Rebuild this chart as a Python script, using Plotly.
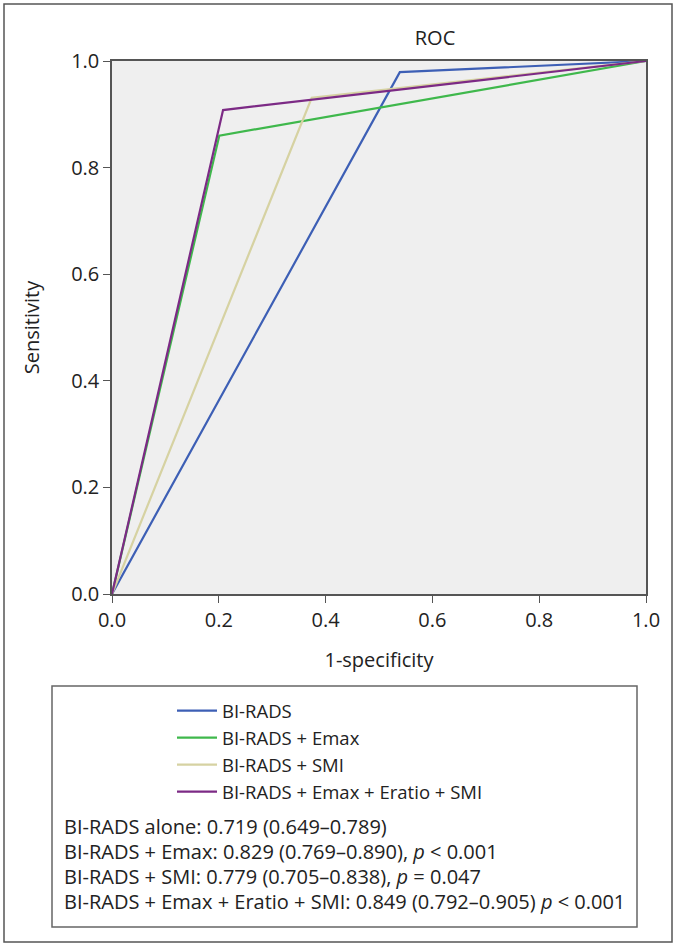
import plotly.graph_objects as go

# ---- data ----
series_names = ["BI-RADS", "BI-RADS + Emax", "BI-RADS + SMI", "BI-RADS + Emax + Eratio + SMI"]
fpr_birads = [0.0, 0.539, 1.0]
tpr_birads = [0.0, 0.979, 1.0]
fpr_emax = [0.0, 0.201, 1.0]
tpr_emax = [0.0, 0.860, 1.0]
fpr_smi = [0.0, 0.374, 1.0]
tpr_smi = [0.0, 0.931, 1.0]
fpr_all = [0.0, 0.208, 1.0]
tpr_all = [0.0, 0.908, 1.0]
colors = ["#3d5fb5", "#3fb84c", "#d6d2a2", "#7c2a85"]
tick_vals = [0.0, 0.2, 0.4, 0.6, 0.8, 1.0]
tick_text = ["0.0", "0.2", "0.4", "0.6", "0.8", "1.0"]
stats_lines = [
    "BI-RADS alone: 0.719 (0.649–0.789)",
    "BI-RADS + Emax: 0.829 (0.769–0.890), <i>p</i> &lt; 0.001",
    "BI-RADS + SMI: 0.779 (0.705–0.838), <i>p</i> = 0.047",
    "BI-RADS + Emax + Eratio + SMI: 0.849 (0.792–0.905) <i>p</i> &lt; 0.001",
]

W, H = 677, 947
L, R, T, B = 112, 646, 61, 594  # plot area in px
pw, ph = R - L, B - T

def px(x):
    return (x - L) / pw

def py(y):
    return (B - y) / ph

FONT = "Open Sans"
TXT = "#222222"
FS = 20

fig = go.Figure()
xs = [fpr_birads, fpr_emax, fpr_smi, fpr_all]
ys = [tpr_birads, tpr_emax, tpr_smi, tpr_all]
for name, x, y, c in zip(series_names, xs, ys, colors):
    fig.add_trace(go.Scatter(x=x, y=y, mode="lines", name=name,
                             line=dict(color=c, width=2.2)))

axis_common = dict(range=[0, 1], tickvals=tick_vals, ticktext=tick_text,
                   showgrid=False, zeroline=False, showline=True, linecolor="#555555",
                   linewidth=1.5, mirror=True, ticks="outside", ticklen=7, tickwidth=1.2,
                   tickcolor="#555555", tickfont=dict(family=FONT, size=FS, color=TXT))
fig.update_xaxes(**axis_common, title=dict(text="1-specificity", font=dict(family=FONT, size=FS, color=TXT), standoff=21))
fig.update_yaxes(**axis_common, title=dict(text="Sensitivity", font=dict(family=FONT, size=FS, color=TXT), standoff=26))

shapes = [
    # outer frame
    dict(type="rect", xref="paper", yref="paper", x0=px(4), x1=px(672), y0=py(942), y1=py(4),
         line=dict(color="#555555", width=1.5), layer="below"),
    # legend/stats box
    dict(type="rect", xref="paper", yref="paper", x0=px(52), x1=px(637), y0=py(927), y1=py(686),
         line=dict(color="#666666", width=1.5), layer="below"),
]

annotations = []
for i, s in enumerate(stats_lines):
    annotations.append(dict(text=s, xref="paper", yref="paper", x=px(62), y=py(826 + i * 25),
                            xanchor="left", yanchor="middle", showarrow=False,
                            font=dict(family=FONT, size=FS, color=TXT)))

fig.update_layout(
    width=W, height=H,
    margin=dict(l=L, r=W - R, t=T, b=H - B),
    paper_bgcolor="white", plot_bgcolor="#efefef",
    title=dict(text="ROC", xref="paper", x=px(435), xanchor="center",
               yref="container", y=1 - 38 / H, yanchor="middle",
               font=dict(family=FONT, size=FS, color=TXT)),
    showlegend=True,
    legend=dict(x=px(172), y=py(692), xanchor="left", yanchor="top",
                font=dict(family=FONT, size=18.5, color=TXT), bgcolor="rgba(0,0,0,0)",
                tracegroupgap=0, itemwidth=40),
    shapes=shapes, annotations=annotations,
)

fig.write_html("out.html", config={"displayModeBar": False},
               post_script="document.body.style.margin='0';document.body.style.overflow='hidden';")
